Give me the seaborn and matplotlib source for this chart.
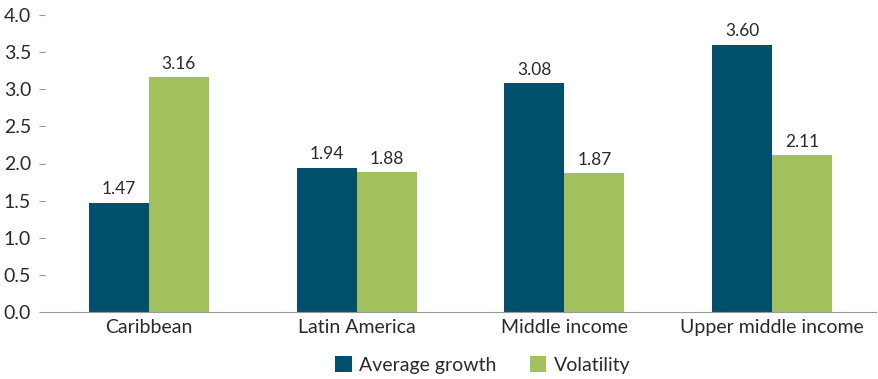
import matplotlib
matplotlib.use("Agg")
import matplotlib.pyplot as plt
import seaborn as sns
import pandas as pd

regions = ["Caribbean", "Latin America", "Middle income", "Upper middle income"]
average_growth = [1.47, 1.94, 3.08, 3.60]
volatility = [3.16, 1.88, 1.87, 2.11]
series_names = ["Average growth", "Volatility"]
y_ticks = [0.0, 0.5, 1.0, 1.5, 2.0, 2.5, 3.0, 3.5, 4.0]

df = pd.DataFrame({
    "region": regions * 2,
    "series": [series_names[0]] * len(regions) + [series_names[1]] * len(regions),
    "value": average_growth + volatility,
})

sns.set_style("white")
plt.rcParams["font.family"] = ["Lato", "DejaVu Sans"]
text_color = "#2a2a2a"

fig = plt.figure(figsize=(8.79, 3.79), dpi=100)
ax = fig.add_axes([45 / 879, 67 / 379, 831 / 879, 297 / 379])

palette = {"Average growth": "#004F6C", "Volatility": "#A2C15D"}
sns.barplot(data=df, x="region", y="value", hue="series", palette=palette,
            width=0.577, saturation=1, ax=ax, legend=True, linewidth=0, edgecolor="none")

for container in ax.containers:
    ax.bar_label(container, fmt="%.2f", padding=4, fontsize=12.5, color=text_color)

ax.set_ylim(0, 4.0)
ax.set_xlim(-0.5, len(regions) - 0.5)
ax.set_yticks(y_ticks)
ax.set_yticklabels([f"{t:.1f}" for t in y_ticks], fontsize=14, color=text_color)
ax.set_xlabel("")
ax.set_ylabel("")

# category labels between boundary tick marks
ax.set_xticks([i for i in range(len(regions))])
ax.set_xticklabels(regions, fontsize=14, color=text_color)
ax.tick_params(axis="x", which="major", length=0, pad=5)
ax.set_xticks([i - 0.5 for i in range(len(regions) + 1)], minor=True)
ax.tick_params(axis="x", which="minor", length=5, color="#999999", width=0.8, direction="out")
ax.tick_params(axis="y", length=4, color="#999999", width=0.8, pad=6, direction="out", left=True)

for side in ["top", "right", "left"]:
    ax.spines[side].set_visible(False)
ax.spines["bottom"].set_color("#999999")
ax.spines["bottom"].set_linewidth(0.8)

handles, labels = ax.get_legend_handles_labels()
ax.legend(handles, labels, loc="center", bbox_to_anchor=(0.527, -53 / 297),
          ncol=2, frameon=False, fontsize=14, handlelength=0.85, handleheight=0.85,
          handletextpad=0.4, columnspacing=1.7, labelcolor=text_color,
          bbox_transform=ax.transAxes)

fig.savefig("out.png", dpi=100)
